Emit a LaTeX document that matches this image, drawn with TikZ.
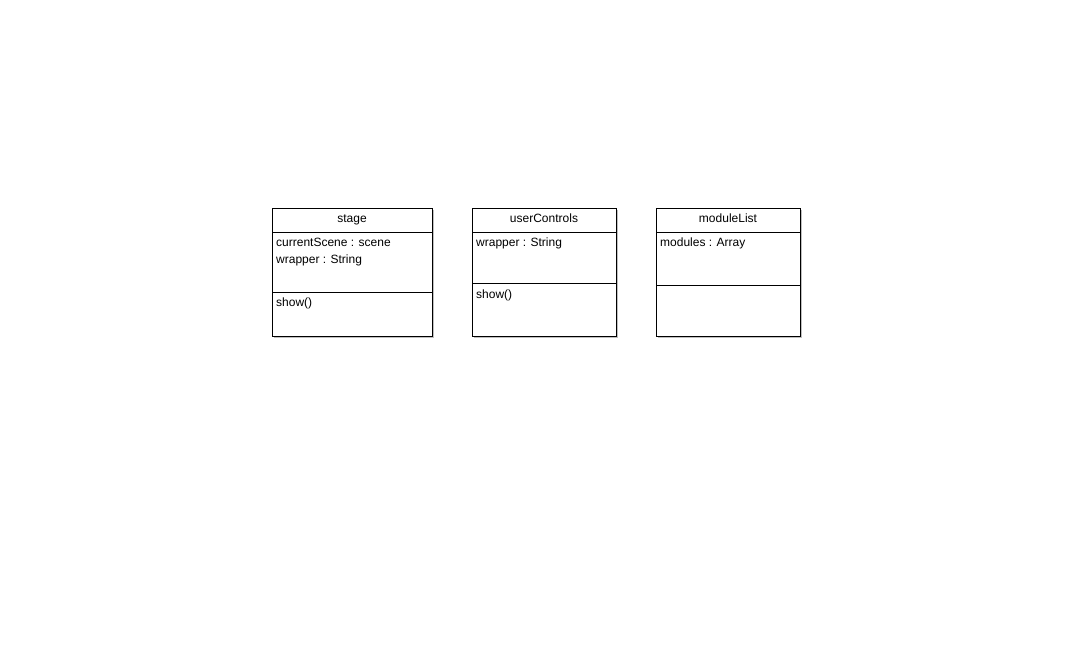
\documentclass[tikz,border=0pt]{standalone}
\usepackage{fontspec}
\setmainfont{Liberation Sans}
\begin{document}
\begin{tikzpicture}[x=1pt,y=-1pt,
  classbox/.style={draw=black,line width=0.9pt,fill=white,inner sep=0pt,anchor=north west},
  shadowbox/.style={fill=black!25,draw=none,inner sep=0pt,anchor=north west},
  title/.style={font=\fontsize{12}{14}\selectfont,inner sep=0pt,anchor=base},
  member/.style={font=\fontsize{12}{14}\selectfont,inner sep=0pt,anchor=base west},
  divider/.style={line width=0.9pt}]
\useasboundingbox (0,0) rectangle (1072,672);
% stage
\node[shadowbox,minimum width=160pt,minimum height=128pt] (s1) at (274,210) {};
\node[classbox,minimum width=160pt,minimum height=128pt] (stage) at (272,208) {};
\coordinate (sd1) at (272,232); \coordinate (sd1e) at (432,232);
\coordinate (sd2) at (272,292); \coordinate (sd2e) at (432,292);
\draw[divider] (sd1) -- (sd1e);
\draw[divider] (sd2) -- (sd2e);
\node[title] (stageT) at (352,222) {stage};
\node[member] (stageA1) at (276,246.5) {currentScene : scene};
\node[member] (stageA2) at (276,263.5) {wrapper : String};
\node[member] (stageM) at (276,306.5) {show()};
% userControls
\node[shadowbox,minimum width=144pt,minimum height=128pt] (s2) at (474,210) {};
\node[classbox,minimum width=144pt,minimum height=128pt] (uc) at (472,208) {};
\coordinate (ud1) at (472,232); \coordinate (ud1e) at (616,232);
\coordinate (ud2) at (472,283.5); \coordinate (ud2e) at (616,283.5);
\draw[divider] (ud1) -- (ud1e);
\draw[divider] (ud2) -- (ud2e);
\node[title] (ucT) at (544,222) {userControls};
\node[member] (ucA) at (476,246.5) {wrapper : String};
\node[member] (ucM) at (476,298) {show()};
% moduleList
\node[shadowbox,minimum width=144pt,minimum height=128pt] (s3) at (658,210) {};
\node[classbox,minimum width=144pt,minimum height=128pt] (ml) at (656,208) {};
\coordinate (md1) at (656,232); \coordinate (md1e) at (800,232);
\coordinate (md2) at (656,285.5); \coordinate (md2e) at (800,285.5);
\draw[divider] (md1) -- (md1e);
\draw[divider] (md2) -- (md2e);
\node[title] (mlT) at (728,222) {moduleList};
\node[member] (mlA) at (660,246.5) {modules : Array};
\end{tikzpicture}
\end{document}
